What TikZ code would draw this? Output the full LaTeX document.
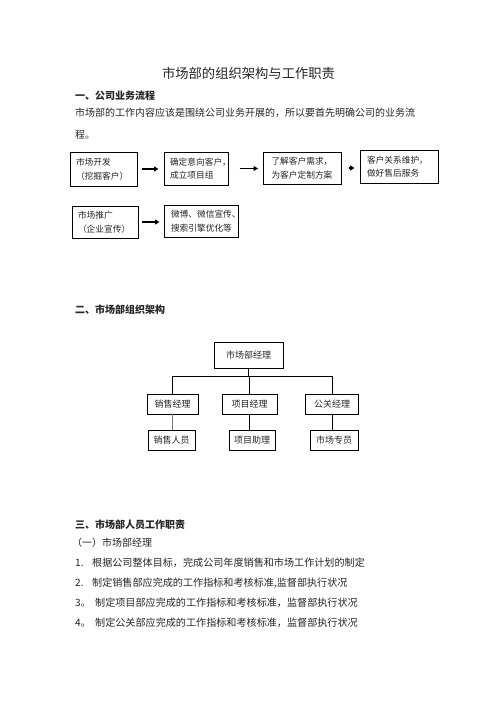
\documentclass[tikz,border=0pt]{standalone}
\usepackage{fontspec}
\setmainfont{Noto Sans CJK SC}
\usetikzlibrary{arrows.meta}
\begin{document}
\begin{tikzpicture}[x=1pt,y=-1pt,
  txt/.style={anchor=west,inner sep=0pt,text=black!85},
  head/.style={txt,font=\fontsize{10}{12}\selectfont\bfseries},
  body/.style={txt,font=\fontsize{10}{12}\selectfont},
  duty/.style={txt,font=\fontsize{10.1}{12}\selectfont},
  flowbox/.style={draw=black,line width=1pt,inner xsep=6pt,inner ysep=0pt,align=left,
    font=\fontsize{8.7}{13.5}\selectfont,text=black!85},
  orgbox/.style={draw=black,line width=0.8pt,inner sep=0pt,align=center,
    font=\fontsize{9}{11}\selectfont,text=black!85},
  flowarrow/.style={line width=1.3pt,-{Triangle[length=4.5pt,width=5pt]}},
  orgline/.style={line width=0.8pt}
]
\useasboundingbox[fill=white] (0,0) rectangle (496,702);

% title and section 1
\node[inner sep=0pt,font=\fontsize{13.3}{15}\selectfont,text=black!85] (title) at (248.5,73) {市场部的组织架构与工作职责};
\node[head] (h1) at (75,96) {一、公司业务流程};
\node[body] (p1) at (75,113) {市场部的工作内容应该是围绕公司业务开展的，所以要首先明确公司的业务流};
\node[body] (p2) at (75,135) {程。};

% flow row 1
\node[flowbox,text width=55pt,minimum height=34pt] (f1) at (103.5,169) {市场开发\\（挖掘客户）};
\node[flowbox,text width=52pt,minimum height=33pt] (f2) at (196,168.5) {确定意向客户，\\成立项目组};
\node[flowbox,text width=62pt,minimum height=32pt,inner xsep=8pt] (f3) at (302.5,168) {了解客户需求，\\为客户定制方案};
\node[flowbox,text width=64pt,minimum height=33pt,inner xsep=7pt] (f4) at (399,166.5) {客户关系维护，\\做好售后服务};
\draw[flowarrow,shorten <=4pt,shorten >=5pt] (f1.east) -- (f1.east -| f2.west);
\draw[flowarrow,shorten <=11pt,shorten >=5pt] (f2.east) -- (f2.east -| f3.west);
\draw[flowarrow,shorten <=7pt,shorten >=5pt] (f3.east) -- (f3.east -| f4.west);

% flow row 2
\node[flowbox,text width=54pt,minimum height=32pt] (f5) at (105,222) {市场推广\\（企业宣传）};
\node[flowbox,text width=60pt,minimum height=32pt,inner xsep=7pt] (f6) at (201,221) {微博、微信宣传、\\搜索引擎优化等};
\draw[flowarrow,shorten <=3pt,shorten >=4pt] (f5.east) -- (f5.east -| f6.west);

% section 2
\node[head] (h2) at (75,310) {二、市场部组织架构};
\node[orgbox,minimum width=69pt,minimum height=26pt] (top) at (248.5,355) {市场部经理};
\node[orgbox,minimum width=51pt,minimum height=20pt] (m1) at (172.5,404) {销售经理};
\node[orgbox,minimum width=55pt,minimum height=20pt] (m2) at (249.5,404) {项目经理};
\node[orgbox,minimum width=53pt,minimum height=20pt] (m3) at (332,404) {公关经理};
\node[orgbox,minimum width=47pt,minimum height=20pt] (b1) at (171.5,440) {销售人员};
\node[orgbox,minimum width=46pt,minimum height=20pt] (b2) at (252,440) {项目助理};
\node[orgbox,minimum width=48pt,minimum height=20pt] (b3) at (334,440) {市场专员};
\coordinate (busL) at (172.5,376);
\coordinate (busR) at (332,376);
\draw[orgline] (busL) -- (busR);
\draw[orgline] (top.south) -- (top.south |- busL);
\draw[orgline] (busL) -- (m1.north);
\draw[orgline] (m2.north |- busL) -- (m2.north);
\draw[orgline] (busR) -- (m3.north);
\draw[orgline,draw=black!55] (m1.south) -- (m1.south |- b1.north);
\draw[orgline] (m2.south) -- (m2.south |- b2.north);
\draw[orgline] (m3.south) -- (m3.south |- b3.north);

% section 3
\node[head] (h3) at (75,525) {三、市场部人员工作职责};
\node[body] (s1) at (72,543) {（一）市场部经理};
\node[duty] (d1) at (75,563) {\makebox[17pt][l]{1.}根据公司整体目标，完成公司年度销售和市场工作计划的制定};
\node[duty] (d2) at (75,583) {\makebox[17pt][l]{2.}制定销售部应完成的工作指标和考核标准,监督部执行状况};
\node[duty] (d3) at (75,603) {\makebox[20pt][l]{3。}制定项目部应完成的工作指标和考核标准，监督部执行状况};
\node[duty] (d4) at (75,623) {\makebox[20pt][l]{4。}制定公关部应完成的工作指标和考核标准，监督部执行状况};
\end{tikzpicture}
\end{document}
